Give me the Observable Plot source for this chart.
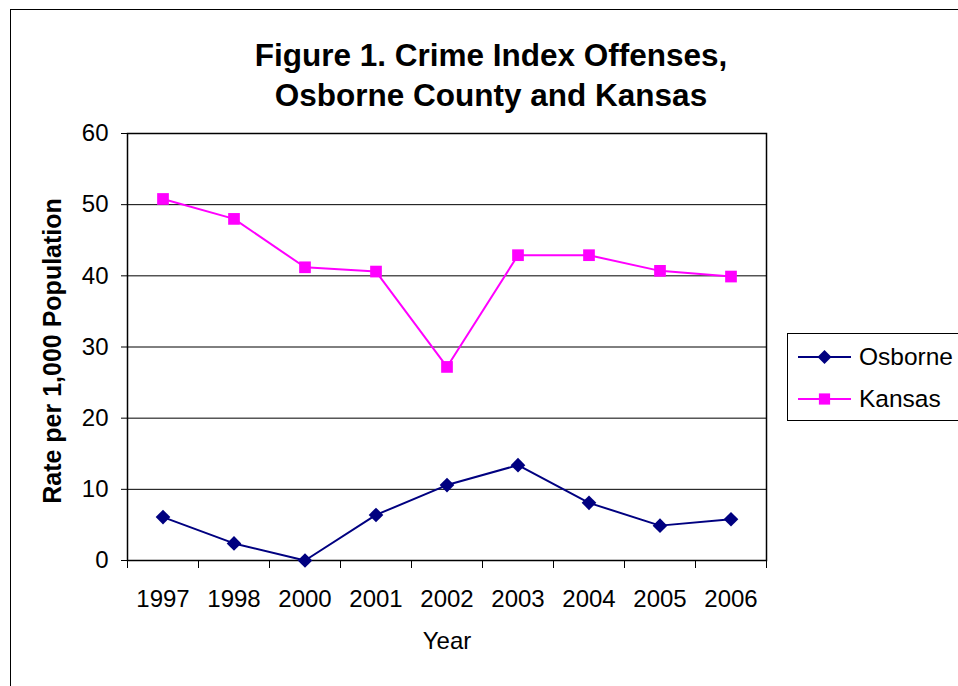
<!DOCTYPE html>
<html>
<head>
<meta charset="utf-8">
<script src="https://cdn.jsdelivr.net/npm/d3@7"></script>
<script src="https://cdn.jsdelivr.net/npm/@observablehq/plot@0.6"></script>
<style>
  body { margin: 0; background: #fff; font-family: "Liberation Sans", Arial, sans-serif; }
  #wrap { position: relative; width: 958px; height: 686px; overflow: hidden; background: #fff; }
  #outer { position: absolute; left: 10px; top: 9px; width: 1000px; height: 800px; border-left: 1px solid #000; border-top: 1px solid #000; }
  #chart { position: absolute; left: 0; top: 0; }
  #title { position: absolute; left: 491px; top: 35px; transform: translateX(-50%); text-align: center; font-weight: bold; font-size: 31.5px; line-height: 40px; color: #000; white-space: nowrap; }
  #ylabel { position: absolute; left: 52px; top: 351px; transform: translate(-50%, -50%) rotate(-90deg); font-weight: bold; font-size: 25px; white-space: nowrap; color: #000; }
  #xlabel { position: absolute; left: 447px; top: 627px; transform: translateX(-50%); font-size: 24px; color: #000; }
  #legend { position: absolute; left: 787px; top: 333px; width: 200px; height: 86px; border: 1px solid #000; background: #fff; }
  .leg { position: absolute; left: 9px; height: 30px; display: flex; align-items: center; font-size: 24.5px; color: #000; }
  .leg svg { margin-right: 7px; }
</style>
</head>
<body>
<div id="wrap">
  <div id="outer"></div>
  <div id="chart"></div>
  <div id="title">Figure 1. Crime Index Offenses,<br>Osborne County and Kansas</div>
  <div id="ylabel">Rate per 1,000 Population</div>
  <div id="xlabel">Year</div>
  <div id="legend"></div>
</div>
<script>
const years = ["1997", "1998", "2000", "2001", "2002", "2003", "2004", "2005", "2006"];
const osborne = [6.1, 2.4, 0, 6.4, 10.6, 13.4, 8.1, 4.9, 5.8];
const kansas = [50.8, 48.0, 41.2, 40.6, 27.2, 42.9, 42.9, 40.7, 39.9];
const yTicks = [0, 10, 20, 30, 40, 50, 60];
const seriesNames = ["Osborne", "Kansas"];
const seriesColors = ["#000080", "#FF00FF"];
const seriesSymbols = ["diamond2", "square"];

const rows = [];
years.forEach((yr, i) => {
  rows.push({i, year: yr, series: "Osborne", value: osborne[i]});
  rows.push({i, year: yr, series: "Kansas", value: kansas[i]});
});
const boundaries = d3.range(years.length + 1).map(k => k - 0.5);
const centers = d3.range(years.length);

const chart = Plot.plot({
  width: 958,
  height: 686,
  marginLeft: 127,
  marginRight: 192,
  marginTop: 133,
  marginBottom: 126,
  style: {fontFamily: "'Liberation Sans', Arial, sans-serif", fontSize: "24px", color: "#000", background: "transparent", overflow: "visible"},
  x: {type: "linear", domain: [-0.5, years.length - 0.5]},
  y: {domain: [0, 60]},
  color: {domain: seriesNames, range: seriesColors},
  symbol: {domain: seriesNames, range: seriesSymbols},
  marks: [
    Plot.gridY(yTicks, {stroke: "#000", strokeOpacity: 1, strokeWidth: 1}),
    Plot.frame({stroke: "#000", strokeWidth: 1.5}),
    Plot.axisY(yTicks, {tickSize: 6, tickPadding: 13, label: null, fontSize: 24}),
    Plot.axisX(boundaries, {tickSize: 8, tickFormat: () => "", label: null}),
    Plot.axisX(centers, {tickSize: 0, tickPadding: 29, tickFormat: d => years[d], label: null, fontSize: 24}),
    Plot.line(rows, {x: "i", y: "value", z: "series", stroke: "series", strokeWidth: 2}),
    Plot.dot(rows, {x: "i", y: "value", symbol: "series", fill: "series", stroke: null, r: 6.6})
  ]
});
document.getElementById("chart").appendChild(chart);

// legend
const legend = document.getElementById("legend");
seriesNames.forEach((name, k) => {
  const div = document.createElement("div");
  div.className = "leg";
  div.style.top = (8 + k * 42) + "px";
  const sw = d3.create("svg").attr("width", 55).attr("height", 20);
  sw.append("line").attr("x1", 1).attr("x2", 54).attr("y1", 10).attr("y2", 10)
    .attr("stroke", seriesColors[k]).attr("stroke-width", 2);
  const sym = k === 0 ? d3.symbol(d3.symbolDiamond2, Math.PI * 40) : d3.symbol(d3.symbolSquare, Math.PI * 40);
  sw.append("path").attr("d", sym()).attr("transform", "translate(27.5,10)").attr("fill", seriesColors[k]);
  div.appendChild(sw.node());
  const t = document.createElement("span");
  t.textContent = name;
  div.appendChild(t);
  legend.appendChild(div);
});
</script>
</body>
</html>
